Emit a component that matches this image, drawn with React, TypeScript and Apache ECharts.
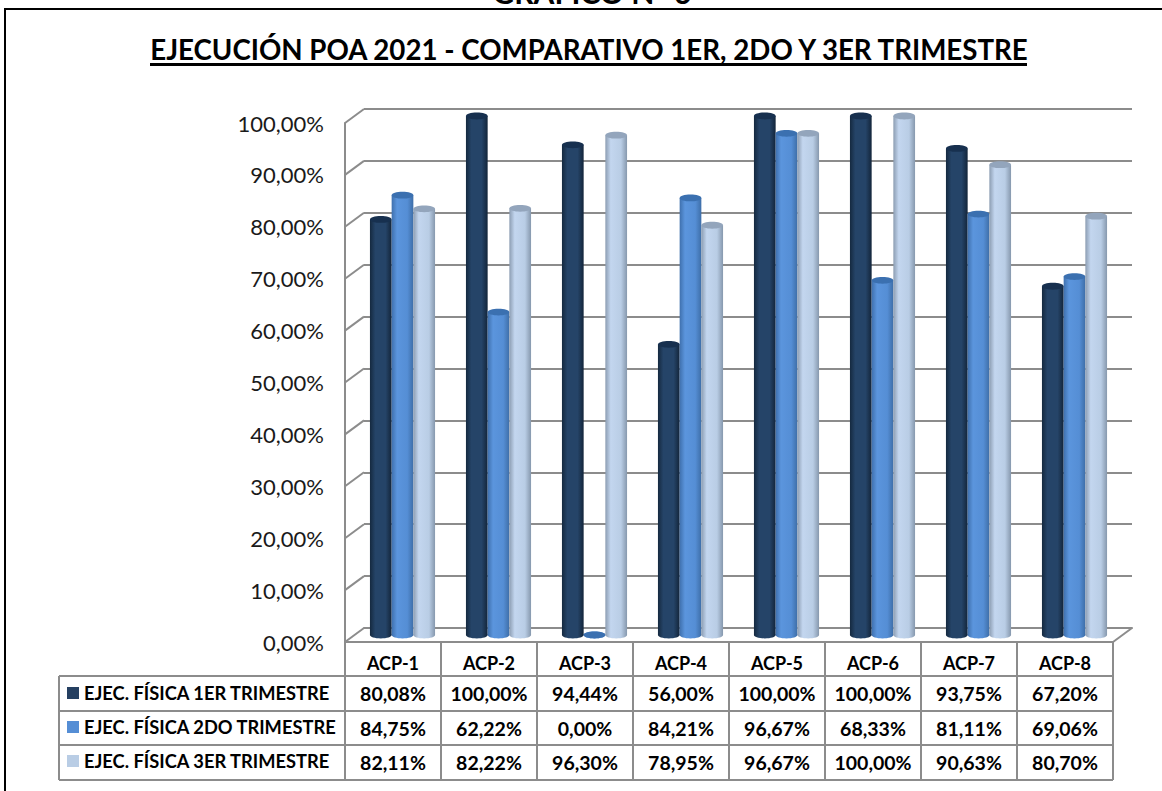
import React, { useEffect, useRef } from "react";
import * as echarts from "echarts";

const FONT = "Lato";
const titleText = "EJECUCIÓN POA 2021 - COMPARATIVO 1ER, 2DO Y 3ER TRIMESTRE";
const pageHeading = "GRÁFICO N° 6";
const categories = ["ACP-1", "ACP-2", "ACP-3", "ACP-4", "ACP-5", "ACP-6", "ACP-7", "ACP-8"];
const seriesNames = ["EJEC. FÍSICA 1ER TRIMESTRE", "EJEC. FÍSICA 2DO TRIMESTRE", "EJEC. FÍSICA 3ER TRIMESTRE"];
const firstQuarter = [80.08, 100, 94.44, 56, 100, 100, 93.75, 67.2];
const secondQuarter = [84.75, 62.22, 0, 84.21, 96.67, 68.33, 81.11, 69.06];
const thirdQuarter = [82.11, 82.22, 96.3, 78.95, 96.67, 100, 90.63, 80.7];
const yTicks = [0, 10, 20, 30, 40, 50, 60, 70, 80, 90, 100];

const LEFT = 345, RIGHT = 1113, TOP = 123, BOTTOM = 642, DX = 19, DY = 14;
const GREY = "#8c8c8c";
const BAR_W = 21.7, RY = 3.4, LIFT = 7, SHIFT = 9.5;
const colWidth = (RIGHT - LEFT) / categories.length;
const tableLeft = 59;
const rowLines = [BOTTOM, 676, 711, 745, 780];

const fmt = (v: number) => v.toFixed(2).replace(".", ",") + "%";

const palettes = [
  { legend: "#254061", stops: ["#15293f", "#254468", "#254468", "#13253a"], cap: "#17304f" },
  { legend: "#558ed5", stops: ["#3f70ad", "#5b95dd", "#558ed5", "#3e6ea8"], cap: "#3b70b0" },
  { legend: "#b9cde5", stops: ["#8c9db2", "#c3d6ef", "#b9cde5", "#8698ad"], cap: "#93a5bc" },
];

function cylinder(offsetIndex: number) {
  const p = palettes[offsetIndex];
  return (_params: any, api: any) => {
    const base = api.coord([api.value(0), 0]);
    const top = api.coord([api.value(0), api.value(1)]);
    const cx = base[0] + SHIFT + (offsetIndex - 1) * BAR_W;
    const y0 = base[1] - LIFT;
    const y1 = top[1] - LIFT;
    const fill = new echarts.graphic.LinearGradient(0, 0, 1, 0, [
      { offset: 0, color: p.stops[0] },
      { offset: 0.25, color: p.stops[1] },
      { offset: 0.72, color: p.stops[2] },
      { offset: 1, color: p.stops[3] },
    ]);
    return {
      type: "group",
      children: [
        { type: "ellipse", shape: { cx, cy: y0, rx: BAR_W / 2, ry: RY }, style: { fill } },
        { type: "rect", shape: { x: cx - BAR_W / 2, y: y1, width: BAR_W, height: y0 - y1 }, style: { fill } },
        { type: "ellipse", shape: { cx, cy: y1, rx: BAR_W / 2, ry: RY }, style: { fill: p.cap } },
      ],
    };
  };
}

function wallDiagonal(_params: any, api: any) {
  const p = api.coord([0, api.value(1)]);
  const x = p[0] - colWidth / 2;
  return {
    type: "line",
    shape: { x1: x, y1: p[1], x2: x + DX, y2: p[1] - DY },
    style: { stroke: GREY, lineWidth: 2 },
  };
}

function buildGraphics() {
  const line = (x1: number, y1: number, x2: number, y2: number, stroke = GREY, lineWidth = 2) => ({
    type: "line",
    silent: true,
    shape: { x1, y1, x2, y2 },
    style: { stroke, lineWidth },
  });
  const out: any[] = [];
  out.push({
    type: "rect",
    silent: true,
    shape: { x: 5, y: 9, width: 1200, height: 850 },
    style: { fill: "none", stroke: "#000", lineWidth: 2 },
  });
  out.push({
    type: "text",
    x: 592,
    y: -8,
    style: { text: pageHeading, font: `bold 30px ${FONT}`, fill: "#000", align: "center", verticalAlign: "middle" },
  });
  out.push(line(150, 64.5, 1027, 64.5, "#000", 3));
  out.push(line(RIGHT, BOTTOM, RIGHT + DX, BOTTOM - DY));
  rowLines.forEach((y, i) => out.push(line(i === 0 ? LEFT : tableLeft, y, RIGHT, y)));
  out.push(line(tableLeft, rowLines[1], tableLeft, rowLines[4]));
  categories.forEach((_, i) => {
    const x = LEFT + i * colWidth;
    out.push(line(x, BOTTOM, x, rowLines[4]));
  });
  out.push(line(RIGHT, BOTTOM, RIGHT, rowLines[4]));
  [firstQuarter, secondQuarter, thirdQuarter].forEach((vals, r) => {
    vals.forEach((v, c) => {
      out.push({
        type: "text",
        x: LEFT + (c + 0.5) * colWidth,
        y: (rowLines[r + 1] + rowLines[r + 2]) / 2,
        style: { text: fmt(v), font: `bold 19.5px ${FONT}`, fill: "#000", align: "center", verticalAlign: "middle" },
      });
    });
  });
  return out;
}

export default function App() {
  const ref = useRef<HTMLDivElement>(null);
  useEffect(() => {
    document.body.style.margin = "0";
    const chart = echarts.init(ref.current!, undefined, { renderer: "svg" });
    const quarters = [firstQuarter, secondQuarter, thirdQuarter];
    chart.setOption({
      animation: false,
      backgroundColor: "#ffffff",
      title: {
        text: titleText,
        left: 584,
        top: 30,
        textAlign: "center",
        textStyle: { fontFamily: FONT, fontWeight: "bold", fontSize: 27.7, color: "#000" },
      },
      legend: {
        data: seriesNames,
        orient: "vertical",
        left: 62,
        top: 679,
        itemWidth: 12,
        itemHeight: 12,
        itemGap: 16,
        icon: "rect",
        selectedMode: false,
        textStyle: { fontFamily: FONT, fontWeight: "bold", fontSize: 18.3, color: "#000" },
      },
      grid: [
        { left: LEFT, top: TOP, width: RIGHT - LEFT, height: BOTTOM - TOP },
        { left: LEFT + DX, top: TOP - DY, width: RIGHT - LEFT, height: BOTTOM - TOP },
      ],
      xAxis: [
        {
          type: "category",
          gridIndex: 0,
          data: categories,
          axisLine: { lineStyle: { color: GREY, width: 2 } },
          axisTick: { show: false },
          axisLabel: { fontFamily: FONT, fontWeight: "bold", fontSize: 18, color: "#000", margin: 12 },
        },
        {
          type: "category",
          gridIndex: 1,
          data: categories,
          axisLine: { lineStyle: { color: GREY, width: 2 } },
          axisTick: { show: false },
          axisLabel: { show: false },
        },
      ],
      yAxis: [
        {
          type: "value",
          gridIndex: 0,
          min: 0,
          max: 100,
          interval: 10,
          axisLine: { show: true, lineStyle: { color: GREY, width: 2 } },
          axisTick: { show: false },
          splitLine: { show: false },
          axisLabel: {
            fontFamily: FONT,
            fontSize: 22,
            color: "#1a1a1a",
            margin: 21,
            formatter: (v: number) => fmt(v),
          },
        },
        {
          type: "value",
          gridIndex: 1,
          min: 0,
          max: 100,
          interval: 10,
          axisLine: { show: false },
          axisTick: { show: false },
          axisLabel: { show: false },
          splitLine: { show: true, lineStyle: { color: GREY, width: 2 } },
        },
      ],
      graphic: buildGraphics(),
      series: [
        {
          type: "custom",
          name: "walls",
          xAxisIndex: 0,
          yAxisIndex: 0,
          clip: false,
          silent: true,
          z: 1,
          renderItem: wallDiagonal,
          encode: { x: 0, y: 1 },
          data: yTicks.map((t) => [0, t]),
        },
        ...quarters.map((vals, i) => ({
          type: "custom",
          name: seriesNames[i],
          xAxisIndex: 0,
          yAxisIndex: 0,
          clip: false,
          z: 3 + i,
          itemStyle: { color: palettes[i].legend },
          renderItem: cylinder(i),
          encode: { x: 0, y: 1 },
          data: vals.map((v, c) => [c, v]),
        })),
      ],
    });
    return () => chart.dispose();
  }, []);
  return <div ref={ref} style={{ width: 1162, height: 791, overflow: "hidden" }} />;
}
